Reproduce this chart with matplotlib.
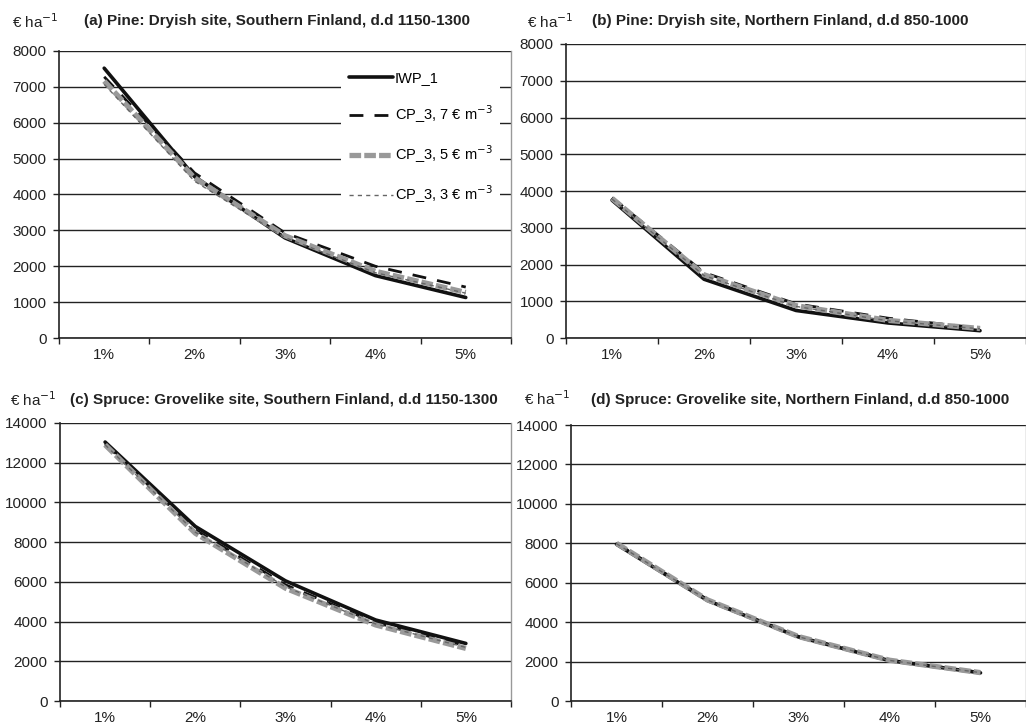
import numpy as np
import matplotlib
matplotlib.use("Agg")
import matplotlib.pyplot as plt

plt.rcParams['font.family'] = ['Liberation Sans', 'DejaVu Sans']

# interest rates (categories)
rates = ['1%', '2%', '3%', '4%', '5%']

# (a) Pine, dryish site, Southern Finland
a_iwp = [7520, 4500, 2790, 1740, 1130]
a_cp7 = [7280, 4600, 2930, 2000, 1420]
a_cp5 = [7160, 4460, 2850, 1860, 1270]
a_cp3 = [7070, 4370, 2800, 1820, 1250]

# (b) Pine, dryish site, Northern Finland
b_iwp = [3750, 1600, 750, 410, 200]
b_cp7 = [3820, 1780, 930, 540, 270]
b_cp5 = [3800, 1720, 880, 480, 260]
b_cp3 = [3780, 1700, 860, 470, 250]

# (c) Spruce, grovelike site, Southern Finland
c_iwp = [13040, 8790, 6050, 4080, 2900]
c_cp7 = [12950, 8620, 5850, 3950, 2780]
c_cp5 = [12900, 8450, 5680, 3830, 2650]
c_cp3 = [12900, 8500, 5750, 3880, 2700]

# (d) Spruce, grovelike site, Northern Finland
d_iwp = [7950, 5100, 3250, 2050, 1430]
d_cp7 = [8000, 5150, 3280, 2080, 1450]
d_cp5 = [8000, 5130, 3270, 2070, 1440]
d_cp3 = [7980, 5120, 3260, 2060, 1440]

labels = ['IWP_1', 'CP_3, 7 € m$^{-3}$', 'CP_3, 5 € m$^{-3}$', 'CP_3, 3 € m$^{-3}$']

panels = [
    ("(a) Pine: Dryish site, Southern Finland, d.d 1150-1300", [a_iwp, a_cp7, a_cp5, a_cp3], 8000, 1000,
     [0.0575, 0.5344, 0.4405, 0.3954], (12, 22), (277, 21)),
    ("(b) Pine: Dryish site, Northern Finland, d.d 850-1000", [b_iwp, b_cp7, b_cp5, b_cp3], 8000, 1000,
     [0.5517, 0.5344, 0.4483, 0.4050], (527, 22), (780, 21)),
    ("(c) Spruce: Grovelike site, Southern Finland, d.d 1150-1300", [c_iwp, c_cp7, c_cp5, c_cp3], 14000, 2000,
     [0.0585, 0.0344, 0.4395, 0.3830], (10, 400), (284, 400)),
    ("(d) Spruce: Grovelike site, Northern Finland, d.d 850-1000", [d_iwp, d_cp7, d_cp5, d_cp3], 14000, 2000,
     [0.5565, 0.0344, 0.4435, 0.3802], (524, 399), (800, 400)),
]

W, H = 1026, 726
FS = 11
fig = plt.figure(figsize=(W / 100, H / 100), dpi=100)

x = np.arange(1, 6)
for title, series, ymax, ystep, rect, unit_pos, title_pos in panels:
    ax = fig.add_axes(rect)
    iwp, cp7, cp5, cp3 = series
    ax.plot(x, iwp, color='#111111', lw=2.6, solid_capstyle='round', label=labels[0], zorder=3)
    ax.plot(x, cp7, color='#111111', lw=2.0, dashes=(5, 4), label=labels[1], zorder=4)
    ax.plot(x, cp5, color='#999999', lw=3.8, dashes=(2.2, 0.6), label=labels[2], zorder=5)
    ax.plot(x, cp3, color='#666666', lw=1.0, dashes=(3, 3), label=labels[3], zorder=6)

    ax.set_xlim(0.5, 5.5)
    ax.set_ylim(0, ymax)
    ax.set_yticks(np.arange(0, ymax + 1, ystep))
    ax.yaxis.grid(True, color='#222222', lw=1.0)
    ax.set_axisbelow(True)

    ax.set_xticks(np.arange(0.5, 6, 1))
    ax.set_xticklabels([])
    ax.set_xticks(x, minor=True)
    ax.set_xticklabels(rates, minor=True)
    ax.tick_params(axis='x', which='minor', length=0, pad=7, labelsize=FS, colors='#222222')
    ax.tick_params(axis='x', which='major', length=4, width=1, direction='out', color='#222222')
    ax.tick_params(axis='y', length=4, width=1, direction='out', labelsize=FS, colors='#222222', pad=5)

    for s in ['left', 'bottom']:
        ax.spines[s].set_color('#222222')
        ax.spines[s].set_linewidth(1.2)
    ax.spines['top'].set_visible(False)
    ax.spines['right'].set_color('#999999')
    ax.spines['right'].set_linewidth(1.0)

    fig.text(unit_pos[0] / W, 1 - unit_pos[1] / H, '€ ha$^{-1}$', fontsize=FS, color='#222222',
             ha='left', va='center')
    fig.text(title_pos[0] / W, 1 - title_pos[1] / H, title, fontsize=FS, fontweight='bold',
             color='#222222', ha='center', va='center')

    if title.startswith('(a)'):
        leg = ax.legend(loc='upper left', bbox_to_anchor=(0.625, 0.955), frameon=True,
                        fancybox=False, edgecolor='none', facecolor='white', framealpha=1,
                        fontsize=10.5, labelspacing=1.25, handlelength=3.0, handletextpad=0.15,
                        borderpad=0.5, borderaxespad=0)
        leg.set_zorder(10)

fig.savefig('out.png', dpi=100)
